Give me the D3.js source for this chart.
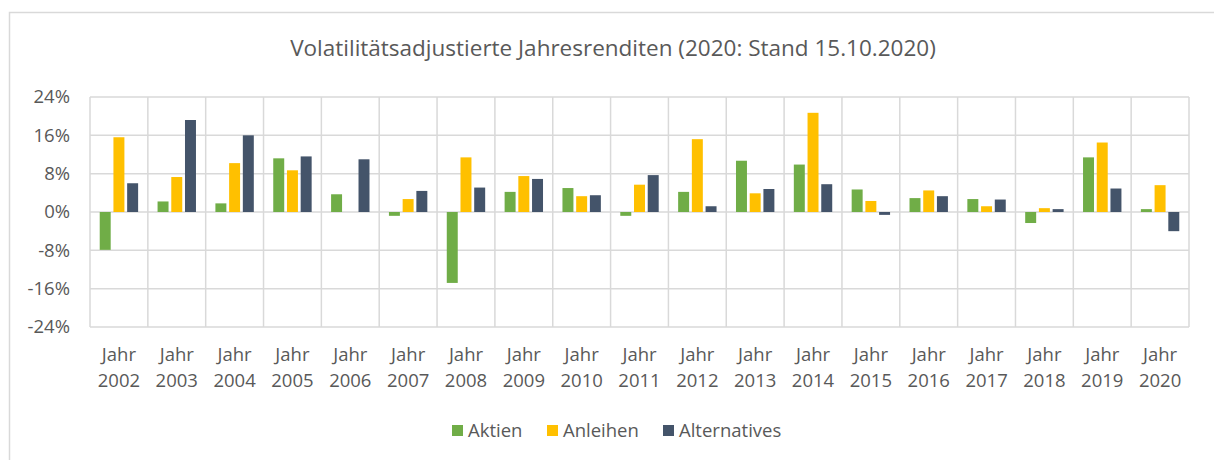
<!DOCTYPE html>
<html>
<head>
<meta charset="utf-8">
<script src="https://cdn.jsdelivr.net/npm/d3@7"></script>
<style>
  html, body { margin: 0; padding: 0; background: #fff; }
  svg { display: block; font-family: "Open Sans", sans-serif; }
</style>
</head>
<body>
<div id="chart"></div>
<script>
// data
const years = ['2002', '2003', '2004', '2005', '2006', '2007', '2008', '2009', '2010', '2011',
  '2012', '2013', '2014', '2015', '2016', '2017', '2018', '2019', '2020'];
const seriesNames = ['Aktien', 'Anleihen', 'Alternatives'];
const aktien = [-7.9, 2.2, 1.8, 11.2, 3.7, -0.8, -14.8, 4.2, 5.0, -0.8, 4.2, 10.7, 9.9, 4.7, 2.9, 2.7, -2.3, 11.4, 0.6];
const anleihen = [15.6, 7.3, 10.2, 8.7, 0, 2.7, 11.4, 7.5, 3.3, 5.7, 15.2, 3.9, 20.7, 2.3, 4.5, 1.2, 0.8, 14.5, 5.6];
const alternatives = [6.0, 19.2, 16.0, 11.6, 11.0, 4.4, 5.1, 6.9, 3.5, 7.7, 1.2, 4.8, 5.8, -0.6, 3.3, 2.6, 0.6, 4.9, -4.0];
const yTicks = [-24, -16, -8, 0, 8, 16, 24];
const colors = ['#70AD47', '#FFC000', '#44546A'];

const width = 1214, height = 460;
const margin = { top: 97, right: 25, bottom: 133, left: 90 };

const svg = d3.select('#chart').append('svg')
  .attr('width', width)
  .attr('height', height);

// outer frame of the chart
svg.append('rect')
  .attr('x', 9.5).attr('y', 12.5)
  .attr('width', width + 10).attr('height', height + 10)
  .attr('fill', 'none')
  .attr('stroke', '#d9d9d9')
  .attr('stroke-width', 1.5);

svg.append('text')
  .attr('x', 613).attr('y', 56)
  .attr('text-anchor', 'middle')
  .attr('fill', '#595959')
  .style('font-size', '22.5px')
  .text('Volatilitätsadjustierte Jahresrenditen (2020: Stand 15.10.2020)');

const x = d3.scaleBand()
  .domain(years)
  .range([margin.left, width - margin.right]);

const xInner = d3.scaleBand()
  .domain(seriesNames)
  .range([0, 38.4])
  .paddingInner(0.2);

const y = d3.scaleLinear()
  .domain([-24, 24])
  .range([height - margin.bottom, margin.top]);

const g = svg.append('g');

// horizontal grid
g.selectAll('.hgrid')
  .data(yTicks)
  .enter().append('line')
  .attr('class', 'hgrid')
  .attr('x1', margin.left).attr('x2', width - margin.right)
  .attr('y1', d => y(d)).attr('y2', d => y(d))
  .attr('stroke', '#d9d9d9')
  .attr('stroke-width', 1.5);

// vertical grid at category boundaries
const bounds = years.map(d => x(d)).concat([x(years[years.length - 1]) + x.bandwidth()]);
g.selectAll('.vgrid')
  .data(bounds)
  .enter().append('line')
  .attr('class', 'vgrid')
  .attr('x1', d => d).attr('x2', d => d)
  .attr('y1', y(24)).attr('y2', y(-24))
  .attr('stroke', '#d9d9d9')
  .attr('stroke-width', 1.5);

// y axis labels
const yAxis = d3.axisLeft(y)
  .tickValues(yTicks)
  .tickSize(0)
  .tickPadding(20)
  .tickFormat(d => `${d}%`);

svg.append('g')
  .attr('transform', `translate(${margin.left},0)`)
  .call(yAxis)
  .call(s => s.select('.domain').remove())
  .selectAll('text')
  .attr('fill', '#595959')
  .style('font-size', '18.5px')
  .style('font-family', '"Open Sans", sans-serif');

// x axis labels on two lines
const xLabels = svg.append('g')
  .selectAll('.xlabel')
  .data(years)
  .enter().append('text')
  .attr('class', 'xlabel')
  .attr('text-anchor', 'middle')
  .attr('fill', '#595959')
  .style('font-size', '18.5px')
  .attr('transform', d => `translate(${x(d) + x.bandwidth() / 2},0)`);

xLabels.append('tspan').attr('x', 0).attr('y', 361).text('Jahr');
xLabels.append('tspan').attr('x', 0).attr('y', 387).text(d => d);

// bars
const allSeries = [aktien, anleihen, alternatives];
const rows = years.map((yr, i) => ({ year: yr, values: allSeries.map((s, k) => ({ key: seriesNames[k], value: s[i], color: colors[k] })) }));

const groups = g.selectAll('.group')
  .data(rows)
  .enter().append('g')
  .attr('class', 'group')
  .attr('transform', d => `translate(${x(d.year) + (x.bandwidth() - 38.4) / 2},0)`);

groups.selectAll('rect')
  .data(d => d.values.filter(v => v.value !== 0))
  .enter().append('rect')
  .attr('x', d => xInner(d.key))
  .attr('width', xInner.bandwidth())
  .attr('y', d => y(Math.max(0, d.value)))
  .attr('height', d => Math.abs(y(d.value) - y(0)))
  .attr('fill', d => d.color);

// legend
const legendItems = [
  { name: seriesNames[0], color: colors[0], x: 452 },
  { name: seriesNames[1], color: colors[1], x: 547 },
  { name: seriesNames[2], color: colors[2], x: 663 }
];

const legend = svg.append('g')
  .selectAll('.legend')
  .data(legendItems)
  .enter().append('g')
  .attr('class', 'legend')
  .attr('transform', d => `translate(${d.x},425)`);

legend.append('rect')
  .attr('width', 11).attr('height', 11)
  .attr('fill', d => d.color);

legend.append('text')
  .attr('x', 16).attr('y', 12)
  .attr('fill', '#595959')
  .style('font-size', '18.5px')
  .text(d => d.name);
</script>
</body>
</html>
